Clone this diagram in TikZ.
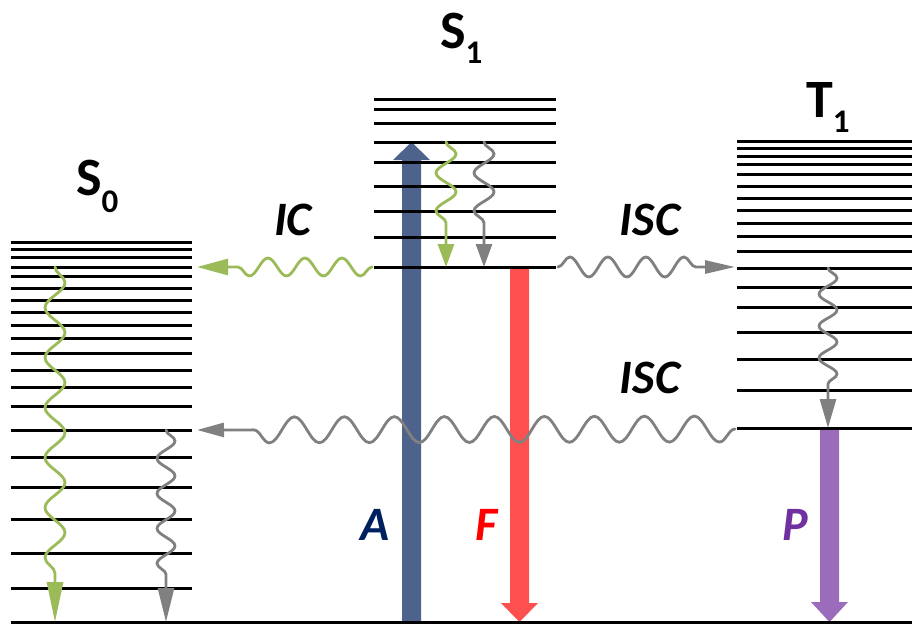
\documentclass[tikz,border=0pt]{standalone}
\usepackage{fontspec}
\setmainfont{Carlito}
\usetikzlibrary{arrows.meta,decorations.pathmorphing}
\definecolor{lvgreen}{RGB}{155,187,89}
\definecolor{lvgray}{RGB}{128,128,128}
\definecolor{absblue}{RGB}{78,99,140}
\definecolor{flred}{RGB}{255,80,80}
\definecolor{phpurple}{RGB}{155,108,188}
\definecolor{labblue}{RGB}{0,32,96}
\definecolor{labred}{RGB}{255,0,0}
\definecolor{labpurple}{RGB}{112,48,160}
\begin{document}
\begin{tikzpicture}[x=1pt,y=-1pt,
  level/.style={line width=3pt, black},
  wv/.style n args={3}{decorate, decoration={snake, amplitude=#1, segment length=#2, post length=#3}, line width=2.8pt, line cap=round},
  statelab/.style={font=\fontsize{54}{54}\selectfont\bfseries, inner sep=0pt, anchor=base west},
  proclab/.style={font=\fontsize{48}{48}\selectfont\bfseries\itshape, inner sep=0pt},
]
\useasboundingbox (0,0) rectangle (912,624);

% ---- thick radiative arrows ----
\fill[absblue] (402,622) -- (402,160) -- (393,160) -- (411.5,142) -- (430,160) -- (421,160) -- (421,622) -- cycle;
\fill[flred] (510,268) -- (510,603) -- (501,603) -- (519.5,622) -- (538,603) -- (529,603) -- (529,268) -- cycle;
\fill[phpurple] (820,429) -- (820,602) -- (811,602) -- (829.5,622) -- (848,602) -- (839,602) -- (839,429) -- cycle;

% ---- energy levels ----
\foreach \y in {242,249,257,267,276,288,300,312,325,338,353,370,387,406,430,457,487,519,553,588}
  \draw[level] (11,\y) -- (192,\y);
\foreach \y in {99,109,123,142,162,186,211,237,267}
  \draw[level] (374,\y) -- (556,\y);
\foreach \y in {141,148,156,164,174,186,198,210,223,236,251,268,287,307,332,359,390,428}
  \draw[level] (737,\y) -- (912,\y);
\draw[level] (11,622) -- (912,622);

% ---- coordinates for wavy transitions ----
\coordinate (icA) at (372,267);
\coordinate (icB) at (197,267);
\coordinate (iscA) at (558,267);
\coordinate (iscB) at (735,267);
\coordinate (isc2A) at (735,429);
\coordinate (isc2B) at (197,430);
\coordinate (s0gA) at (55,267);
\coordinate (s0gB) at (55,622);
\coordinate (s0yA) at (166,430);
\coordinate (s0yB) at (166,622);
\coordinate (s1gA) at (446,142);
\coordinate (s1gB) at (446,267);
\coordinate (s1yA) at (484,142);
\coordinate (s1yB) at (484,267);
\coordinate (t1A) at (828,268);
\coordinate (t1B) at (828,428);

% ---- wavy (non-radiative) transitions ----
\draw[wv={9pt}{37pt}{36pt}, lvgreen, -{Triangle[length=31pt,width=16pt]}] (icA) -- (icB);
\draw[wv={10pt}{38pt}{38pt}, lvgray, -{Triangle[length=30pt,width=13pt]}] (iscA) -- (iscB);
\draw[wv={13pt}{50pt}{32pt}, lvgray, -{Triangle[length=27pt,width=14pt]}] (isc2A) -- (isc2B);
\draw[wv={10pt}{50pt}{48pt}, lvgreen, -{Triangle[length=40pt,width=16pt]}] (s0gA) -- (s0gB);
\draw[wv={9pt}{35pt}{38pt}, lvgray, -{Triangle[length=34pt,width=16pt]}] (s0yA) -- (s0yB);
\draw[wv={10pt}{38pt}{30pt}, lvgreen, -{Triangle[length=23pt,width=16pt]}] (s1gA) -- (s1gB);
\draw[wv={10pt}{38pt}{30pt}, lvgray, -{Triangle[length=23pt,width=16pt]}] (s1yA) -- (s1yB);
\draw[wv={9pt}{32pt}{32pt}, lvgray, -{Triangle[length=29pt,width=16pt]}] (t1A) -- (t1B);

% ---- state labels ----
\node[statelab] (S0) at (76,195) {S\raisebox{-17pt}{\fontsize{33}{33}\selectfont 0}};
\node[statelab] (S1) at (440,48) {S\raisebox{-15pt}{\fontsize{33}{33}\selectfont 1}};
\node[statelab] (T1) at (806,117) {T\raisebox{-15pt}{\fontsize{33}{33}\selectfont 1}};

% ---- process labels ----
\node[proclab] (IC) at (293,220) {IC};
\node[proclab] (ISC1) at (650,220) {ISC};
\node[proclab] (ISC2) at (650,378) {ISC};
\node[proclab, text=labblue] (A) at (375,525) {A};
\node[proclab, text=labred] (F) at (487,525) {F};
\node[proclab, text=labpurple] (P) at (795,525) {P};
\end{tikzpicture}
\end{document}
